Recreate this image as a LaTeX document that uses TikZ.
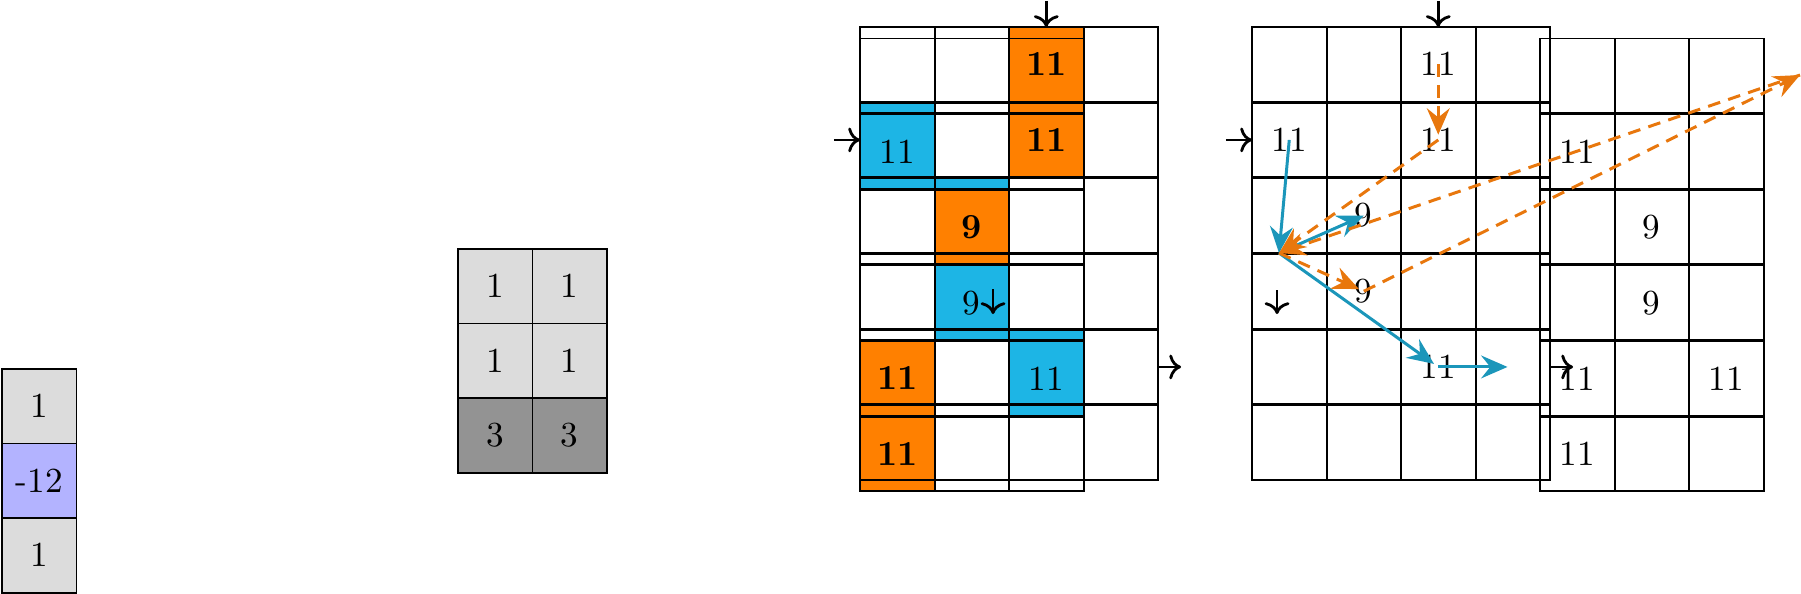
\documentclass[tikz,border=0pt]{standalone}
\usetikzlibrary{arrows.meta}
\definecolor{ofill}{RGB}{255,128,0}
\definecolor{bfill}{RGB}{29,181,229}
\definecolor{barrow}{RGB}{27,150,186}
\definecolor{oarrow}{RGB}{232,119,13}
\definecolor{lgray}{RGB}{220,220,220}
\definecolor{dgray}{RGB}{147,147,147}
\definecolor{lav}{RGB}{179,179,255}
\pgfdeclarelayer{bg}
\pgfsetlayers{bg,main}
\begin{document}
\begin{tikzpicture}[x=0.01cm,y=-0.01cm,
  cell/.style={rectangle,minimum width=0.745cm,minimum height=0.745cm,inner sep=0pt,outer sep=0pt},
  smallcell/.style={cell,draw=black,line width=0.55pt},
  gridline/.style={draw=black,line width=0.55pt},
  num/.style={inner sep=0pt},
  blackarrow/.style={->,thick},
  bluearrow/.style={draw=barrow,line width=0.85pt,-{Stealth[length=7.5pt,width=6.5pt,inset=2.6pt,fill=barrow]}},
  orangearrow/.style={draw=oarrow,line width=0.85pt,dash pattern=on 3.6pt off 2.4pt,-{Stealth[length=7.5pt,width=6.5pt,inset=2.6pt,fill=oarrow]}}]
\useasboundingbox (0,0) rectangle (1801,593);

% left column
\node[smallcell,fill=lgray] (L1) at (39.25,406.25) {1};
\node[smallcell,fill=lav] (L2) at (39.25,480.75) {-12};
\node[smallcell,fill=lgray] (L3) at (39.25,555.25) {1};

% middle grid
\node[smallcell,fill=lgray] (M11) at (495.25,286.25) {1};
\node[smallcell,fill=lgray] (M12) at (569.75,286.25) {1};
\node[smallcell,fill=lgray] (M21) at (495.25,360.75) {1};
\node[smallcell,fill=lgray] (M22) at (569.75,360.75) {1};
\node[smallcell,fill=dgray] (M31) at (495.25,435.25) {3};
\node[smallcell,fill=dgray] (M32) at (569.75,435.25) {3};

% big grids
\foreach \r in {1,...,6}{\foreach \c in {1,...,4}{
  \node[cell] (A-\r-\c) at ({860+(\c-0.5)*74.5},{64.25+(\r-1)*75.67}) {};
  \node[cell] (C-\r-\c) at ({1252+(\c-0.5)*74.5},{64.25+(\r-1)*75.67}) {};
}}
\foreach \r in {1,...,6}{\foreach \c in {1,...,3}{
  \node[cell] (B-\r-\c) at ({860+(\c-0.5)*74.5},{75.75+(\r-1)*75.67}) {};
  \node[cell] (D-\r-\c) at ({1540+(\c-0.5)*74.5},{75.75+(\r-1)*75.67}) {};
}}

\begin{pgfonlayer}{bg}
\foreach \n/\f in {A-1-3/ofill,A-2-3/ofill,A-2-1/bfill,A-3-2/bfill,A-5-3/bfill,
  B-2-1/bfill,B-3-2/ofill,B-4-2/bfill,B-5-1/ofill,B-5-3/bfill,B-6-1/ofill}
  \fill[\f] (\n.north west) rectangle (\n.south east);
\end{pgfonlayer}

\foreach \g/\nc in {A/4,B/3,C/4,D/3}{
  \foreach \r in {1,...,6}{\foreach \c in {1,...,\nc}{
    \draw[gridline] (\g-\r-\c.north west) rectangle (\g-\r-\c.south east);
}}}

% texts
\node[num] (tA13) at (A-1-3) {\textbf{11}};
\node[num] (tA23) at (A-2-3) {\textbf{11}};
\node[num] (tB21) at (B-2-1) {11};
\node[num] (tB32) at (B-3-2) {\textbf{9}};
\node[num] (tB42) at (B-4-2) {9};
\node[num] (tB51) at (B-5-1) {\textbf{11}};
\node[num] (tB53) at (B-5-3) {11};
\node[num] (tB61) at (B-6-1) {\textbf{11}};

\node[num] (tC13) at (C-1-3) {11};
\node[num] (tC21) at (C-2-1) {11};
\node[num] (tC23) at (C-2-3) {11};
\node[num] (tC32) at (C-3-2) {9};
\node[num] (tC42) at (C-4-2) {9};
\node[num] (tC53) at (C-5-3) {11};

\node[num] (tD21) at (D-2-1) {11};
\node[num] (tD32) at (D-3-2) {9};
\node[num] (tD42) at (D-4-2) {9};
\node[num] (tD51) at (D-5-1) {11};
\node[num] (tD53) at (D-5-3) {11};
\node[num] (tD61) at (D-6-1) {11};

% black arrows
\draw[blackarrow] ([yshift=0.26cm]A-1-3.north) -- (A-1-3.north);
\draw[blackarrow] ([xshift=-0.26cm]A-2-1.west) -- (A-2-1.west);
\draw[blackarrow] (A-5-4.east) -- ([xshift=0.23cm]A-5-4.east);
\coordinate (dA1) at (993,289);
\coordinate (dA2) at (993,314);
\draw[blackarrow] (dA1) -- (dA2);

\draw[blackarrow] ([yshift=0.26cm]C-1-3.north) -- (C-1-3.north);
\draw[blackarrow] ([xshift=-0.26cm]C-2-1.west) -- (C-2-1.west);
\draw[blackarrow] (C-5-4.east) -- ([xshift=0.23cm]C-5-4.east);
\coordinate (dC1) at (1277,290);
\coordinate (dC2) at (1277,314);
\draw[blackarrow] (dC1) -- (dC2);

% coloured arrows
\coordinate (corner) at (1279,253);
\coordinate (far) at (1800,75);
\draw[bluearrow] (tC21.center) -- (corner);
\draw[bluearrow] (corner) -- (tC32.center);
\draw[bluearrow,shorten >=1.5pt] (corner) -- (tC53.center);
\draw[bluearrow,shorten >=1.5pt] (tC53.center) -- (C-5-4.center);
\draw[orangearrow,shorten >=1.5pt] (tC13.center) -- (tC23.center);
\draw[orangearrow] (tC23.center) -- (corner);
\draw[orangearrow] (far) -- (corner);
\draw[orangearrow] (tC42.center) -- (far);
\draw[orangearrow,shorten >=1.5pt] (corner) -- (tC42.center);
\end{tikzpicture}
\end{document}
